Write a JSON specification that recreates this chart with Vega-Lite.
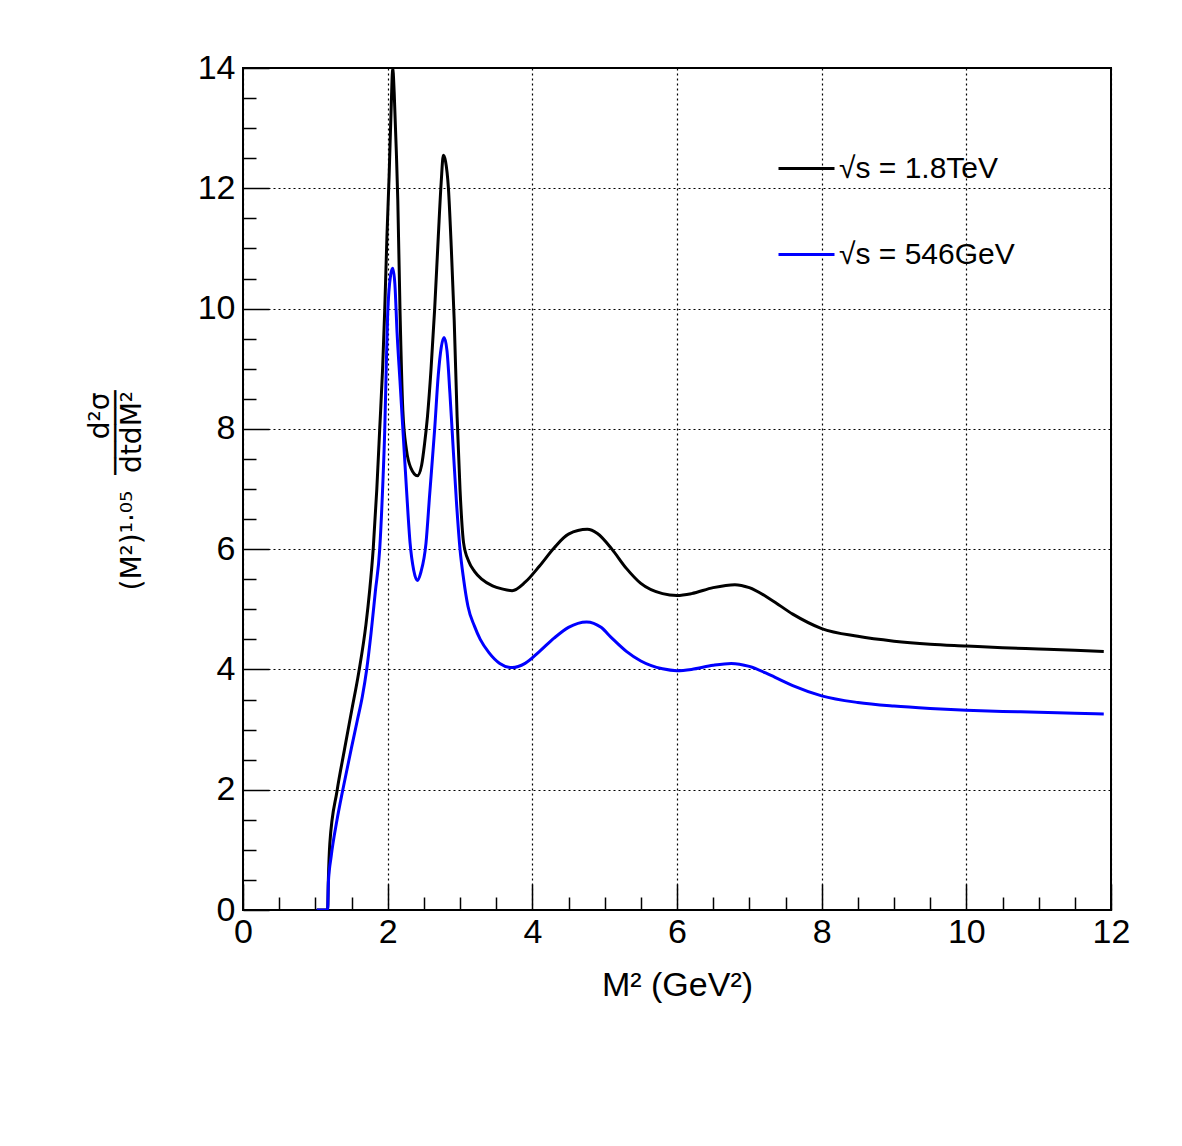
{
  "$schema": "https://vega.github.io/schema/vega-lite/v6.json",
  "autosize": {"type": "none"},
  "width": 868,
  "height": 842,
  "padding": {"left": 243, "top": 68, "right": 71, "bottom": 236},
  "background": "white",
  "config": {
    "view": {"stroke": "black", "strokeWidth": 2},
    "font": "Liberation Sans",
    "axis": {"domain": false, "labelFont": "Liberation Sans", "titleFont": "Liberation Sans", "labelColor": "black", "titleColor": "black", "tickColor": "black", "titleFontWeight": "normal"}
  },
  "data": {"values": [
    {"s": "√s = 1.8TeV", "x": 1.02, "y": 0},
    {"s": "√s = 1.8TeV", "x": 1.17, "y": 0},
    {"s": "√s = 1.8TeV", "x": 1.18, "y": 0.5},
    {"s": "√s = 1.8TeV", "x": 1.20, "y": 1.1},
    {"s": "√s = 1.8TeV", "x": 1.30, "y": 1.98},
    {"s": "√s = 1.8TeV", "x": 1.40, "y": 2.65},
    {"s": "√s = 1.8TeV", "x": 1.50, "y": 3.3},
    {"s": "√s = 1.8TeV", "x": 1.60, "y": 3.95},
    {"s": "√s = 1.8TeV", "x": 1.70, "y": 4.75},
    {"s": "√s = 1.8TeV", "x": 1.75, "y": 5.3},
    {"s": "√s = 1.8TeV", "x": 1.80, "y": 6.0},
    {"s": "√s = 1.8TeV", "x": 1.85, "y": 7.0},
    {"s": "√s = 1.8TeV", "x": 1.89, "y": 8.0},
    {"s": "√s = 1.8TeV", "x": 1.93, "y": 9.0},
    {"s": "√s = 1.8TeV", "x": 1.96, "y": 10.0},
    {"s": "√s = 1.8TeV", "x": 1.99, "y": 11.2},
    {"s": "√s = 1.8TeV", "x": 2.02, "y": 12.2},
    {"s": "√s = 1.8TeV", "x": 2.05, "y": 13.4},
    {"s": "√s = 1.8TeV", "x": 2.07, "y": 14.0},
    {"s": "√s = 1.8TeV", "x": 2.09, "y": 13.6},
    {"s": "√s = 1.8TeV", "x": 2.12, "y": 12.6},
    {"s": "√s = 1.8TeV", "x": 2.14, "y": 11.8},
    {"s": "√s = 1.8TeV", "x": 2.17, "y": 10.0},
    {"s": "√s = 1.8TeV", "x": 2.21, "y": 8.3},
    {"s": "√s = 1.8TeV", "x": 2.26, "y": 7.65},
    {"s": "√s = 1.8TeV", "x": 2.32, "y": 7.35},
    {"s": "√s = 1.8TeV", "x": 2.41, "y": 7.22},
    {"s": "√s = 1.8TeV", "x": 2.47, "y": 7.4},
    {"s": "√s = 1.8TeV", "x": 2.51, "y": 7.75},
    {"s": "√s = 1.8TeV", "x": 2.55, "y": 8.2},
    {"s": "√s = 1.8TeV", "x": 2.60, "y": 9.0},
    {"s": "√s = 1.8TeV", "x": 2.65, "y": 10.0},
    {"s": "√s = 1.8TeV", "x": 2.70, "y": 11.2},
    {"s": "√s = 1.8TeV", "x": 2.74, "y": 12.1},
    {"s": "√s = 1.8TeV", "x": 2.77, "y": 12.55},
    {"s": "√s = 1.8TeV", "x": 2.80, "y": 12.45},
    {"s": "√s = 1.8TeV", "x": 2.84, "y": 12.0},
    {"s": "√s = 1.8TeV", "x": 2.88, "y": 11.0},
    {"s": "√s = 1.8TeV", "x": 2.92, "y": 9.8},
    {"s": "√s = 1.8TeV", "x": 2.96, "y": 8.2},
    {"s": "√s = 1.8TeV", "x": 3.00, "y": 7.0},
    {"s": "√s = 1.8TeV", "x": 3.05, "y": 6.1},
    {"s": "√s = 1.8TeV", "x": 3.12, "y": 5.8},
    {"s": "√s = 1.8TeV", "x": 3.20, "y": 5.63},
    {"s": "√s = 1.8TeV", "x": 3.30, "y": 5.5},
    {"s": "√s = 1.8TeV", "x": 3.45, "y": 5.39},
    {"s": "√s = 1.8TeV", "x": 3.58, "y": 5.34},
    {"s": "√s = 1.8TeV", "x": 3.72, "y": 5.31},
    {"s": "√s = 1.8TeV", "x": 3.90, "y": 5.45},
    {"s": "√s = 1.8TeV", "x": 4.10, "y": 5.72},
    {"s": "√s = 1.8TeV", "x": 4.30, "y": 6.02},
    {"s": "√s = 1.8TeV", "x": 4.50, "y": 6.25},
    {"s": "√s = 1.8TeV", "x": 4.76, "y": 6.33},
    {"s": "√s = 1.8TeV", "x": 4.90, "y": 6.26},
    {"s": "√s = 1.8TeV", "x": 5.10, "y": 6.0},
    {"s": "√s = 1.8TeV", "x": 5.30, "y": 5.68},
    {"s": "√s = 1.8TeV", "x": 5.50, "y": 5.43},
    {"s": "√s = 1.8TeV", "x": 5.80, "y": 5.26},
    {"s": "√s = 1.8TeV", "x": 6.00, "y": 5.23},
    {"s": "√s = 1.8TeV", "x": 6.20, "y": 5.26},
    {"s": "√s = 1.8TeV", "x": 6.50, "y": 5.36},
    {"s": "√s = 1.8TeV", "x": 6.80, "y": 5.41},
    {"s": "√s = 1.8TeV", "x": 7.00, "y": 5.36},
    {"s": "√s = 1.8TeV", "x": 7.30, "y": 5.16},
    {"s": "√s = 1.8TeV", "x": 7.60, "y": 4.92},
    {"s": "√s = 1.8TeV", "x": 8.00, "y": 4.68},
    {"s": "√s = 1.8TeV", "x": 8.50, "y": 4.55},
    {"s": "√s = 1.8TeV", "x": 9.00, "y": 4.47},
    {"s": "√s = 1.8TeV", "x": 9.50, "y": 4.42},
    {"s": "√s = 1.8TeV", "x": 10.0, "y": 4.39},
    {"s": "√s = 1.8TeV", "x": 10.5, "y": 4.36},
    {"s": "√s = 1.8TeV", "x": 11.0, "y": 4.34},
    {"s": "√s = 1.8TeV", "x": 11.5, "y": 4.32},
    {"s": "√s = 1.8TeV", "x": 11.9, "y": 4.30},
    {"s": "√s = 546GeV", "x": 1.02, "y": 0},
    {"s": "√s = 546GeV", "x": 1.17, "y": 0},
    {"s": "√s = 546GeV", "x": 1.18, "y": 0.45},
    {"s": "√s = 546GeV", "x": 1.22, "y": 0.9},
    {"s": "√s = 546GeV", "x": 1.30, "y": 1.5},
    {"s": "√s = 546GeV", "x": 1.38, "y": 2.0},
    {"s": "√s = 546GeV", "x": 1.50, "y": 2.7},
    {"s": "√s = 546GeV", "x": 1.58, "y": 3.15},
    {"s": "√s = 546GeV", "x": 1.65, "y": 3.55},
    {"s": "√s = 546GeV", "x": 1.71, "y": 4.0},
    {"s": "√s = 546GeV", "x": 1.77, "y": 4.6},
    {"s": "√s = 546GeV", "x": 1.83, "y": 5.3},
    {"s": "√s = 546GeV", "x": 1.89, "y": 6.0},
    {"s": "√s = 546GeV", "x": 1.93, "y": 7.0},
    {"s": "√s = 546GeV", "x": 1.96, "y": 8.0},
    {"s": "√s = 546GeV", "x": 1.98, "y": 9.0},
    {"s": "√s = 546GeV", "x": 2.00, "y": 9.9},
    {"s": "√s = 546GeV", "x": 2.04, "y": 10.55},
    {"s": "√s = 546GeV", "x": 2.07, "y": 10.67},
    {"s": "√s = 546GeV", "x": 2.10, "y": 10.4},
    {"s": "√s = 546GeV", "x": 2.13, "y": 9.6},
    {"s": "√s = 546GeV", "x": 2.17, "y": 8.8},
    {"s": "√s = 546GeV", "x": 2.21, "y": 8.0},
    {"s": "√s = 546GeV", "x": 2.26, "y": 7.0},
    {"s": "√s = 546GeV", "x": 2.31, "y": 6.1},
    {"s": "√s = 546GeV", "x": 2.36, "y": 5.65},
    {"s": "√s = 546GeV", "x": 2.41, "y": 5.48},
    {"s": "√s = 546GeV", "x": 2.46, "y": 5.62},
    {"s": "√s = 546GeV", "x": 2.53, "y": 6.1},
    {"s": "√s = 546GeV", "x": 2.58, "y": 6.9},
    {"s": "√s = 546GeV", "x": 2.65, "y": 8.0},
    {"s": "√s = 546GeV", "x": 2.70, "y": 8.9},
    {"s": "√s = 546GeV", "x": 2.74, "y": 9.35},
    {"s": "√s = 546GeV", "x": 2.78, "y": 9.52},
    {"s": "√s = 546GeV", "x": 2.82, "y": 9.3},
    {"s": "√s = 546GeV", "x": 2.86, "y": 8.6},
    {"s": "√s = 546GeV", "x": 2.89, "y": 8.0},
    {"s": "√s = 546GeV", "x": 2.95, "y": 6.8},
    {"s": "√s = 546GeV", "x": 3.00, "y": 6.0},
    {"s": "√s = 546GeV", "x": 3.05, "y": 5.5},
    {"s": "√s = 546GeV", "x": 3.11, "y": 5.05},
    {"s": "√s = 546GeV", "x": 3.20, "y": 4.72},
    {"s": "√s = 546GeV", "x": 3.28, "y": 4.5},
    {"s": "√s = 546GeV", "x": 3.40, "y": 4.28},
    {"s": "√s = 546GeV", "x": 3.55, "y": 4.1},
    {"s": "√s = 546GeV", "x": 3.72, "y": 4.03},
    {"s": "√s = 546GeV", "x": 3.90, "y": 4.1},
    {"s": "√s = 546GeV", "x": 4.10, "y": 4.3},
    {"s": "√s = 546GeV", "x": 4.30, "y": 4.52},
    {"s": "√s = 546GeV", "x": 4.50, "y": 4.7},
    {"s": "√s = 546GeV", "x": 4.75, "y": 4.79},
    {"s": "√s = 546GeV", "x": 4.95, "y": 4.7},
    {"s": "√s = 546GeV", "x": 5.10, "y": 4.52},
    {"s": "√s = 546GeV", "x": 5.30, "y": 4.3},
    {"s": "√s = 546GeV", "x": 5.50, "y": 4.14},
    {"s": "√s = 546GeV", "x": 5.80, "y": 4.01},
    {"s": "√s = 546GeV", "x": 6.00, "y": 3.98},
    {"s": "√s = 546GeV", "x": 6.20, "y": 4.0},
    {"s": "√s = 546GeV", "x": 6.50, "y": 4.07},
    {"s": "√s = 546GeV", "x": 6.75, "y": 4.10},
    {"s": "√s = 546GeV", "x": 7.00, "y": 4.05},
    {"s": "√s = 546GeV", "x": 7.30, "y": 3.9},
    {"s": "√s = 546GeV", "x": 7.60, "y": 3.73},
    {"s": "√s = 546GeV", "x": 8.00, "y": 3.56},
    {"s": "√s = 546GeV", "x": 8.50, "y": 3.45},
    {"s": "√s = 546GeV", "x": 9.00, "y": 3.39},
    {"s": "√s = 546GeV", "x": 9.50, "y": 3.35},
    {"s": "√s = 546GeV", "x": 10.0, "y": 3.32},
    {"s": "√s = 546GeV", "x": 10.5, "y": 3.30},
    {"s": "√s = 546GeV", "x": 11.0, "y": 3.29},
    {"s": "√s = 546GeV", "x": 11.5, "y": 3.27},
    {"s": "√s = 546GeV", "x": 11.9, "y": 3.26}
  ]},
  "resolve": {"axis": {"x": "independent", "y": "independent"}},
  "layer": [
    {
      "mark": {"type": "line", "strokeOpacity": 0, "clip": true},
      "encoding": {
        "x": {"field": "x", "type": "quantitative", "scale": {"domain": [0, 12], "nice": false, "zero": false},
          "axis": {"orient": "bottom", "values": [0.5,1,1.5,2.5,3,3.5,4.5,5,5.5,6.5,7,7.5,8.5,9,9.5,10.5,11,11.5], "labels": false, "grid": false, "title": null, "tickSize": -13, "tickWidth": 1.5}},
        "y": {"field": "y", "type": "quantitative", "scale": {"domain": [0, 14], "nice": false, "zero": false},
          "axis": {"orient": "left", "values": [0.5,1,1.5,2.5,3,3.5,4.5,5,5.5,6.5,7,7.5,8.5,9,9.5,10.5,11,11.5,12.5,13,13.5], "labels": false, "grid": false, "title": null, "tickSize": -13, "tickWidth": 1.5}},
        "detail": {"field": "s"}
      }
    },
    {
      "mark": {"type": "line", "strokeWidth": 3, "interpolate": "monotone", "clip": true},
      "encoding": {
        "x": {"field": "x", "type": "quantitative", "scale": {"domain": [0, 12], "nice": false, "zero": false},
          "axis": {"orient": "bottom", "values": [0,2,4,6,8,10,12], "grid": true, "gridColor": "black", "gridDash": [2,3], "gridWidth": 1.2, "gridOpacity": 1,
            "tickSize": -26, "tickWidth": 1.5, "labelFontSize": 34, "labelPadding": 31, "labelFlush": false,
            "title": "M² (GeV²)", "titleFontSize": 34, "titlePadding": 19}},
        "y": {"field": "y", "type": "quantitative", "scale": {"domain": [0, 14], "nice": false, "zero": false},
          "axis": {"orient": "left", "values": [0,2,4,6,8,10,12,14], "grid": true, "gridColor": "black", "gridDash": [2,3], "gridWidth": 1.2, "gridOpacity": 1,
            "tickSize": -26, "tickWidth": 1.5, "labelFontSize": 34, "labelPadding": 34, "labelFlush": false,
            "title": ["\u200b\u00a0\u00a0\u00a0\u00a0\u00a0\u00a0\u00a0\u00a0\u00a0\u00a0\u00a0\u00a0\u00a0\u00a0\u00a0\u00a0\u00a0d²σ", "\u200b\u00a0\u00a0\u00a0\u00a0\u00a0\u00a0\u00a0\u00a0\u00a0\u00a0\u00a0\u00a0\u00a0─────", "(M²)¹·⁰⁵\u00a0\u00a0dtdM²"],
            "titleFont": "DejaVu Sans", "titleFontSize": 28, "titleLineHeight": 16, "titleAlign": "left", "titleBaseline": "alphabetic", "titleAngle": 270, "titleX": -135, "titleY": 522}},
        "color": {"field": "s", "type": "nominal",
          "scale": {"domain": ["√s = 1.8TeV", "√s = 546GeV"], "range": ["#000000", "#0000ff"]},
          "legend": {"title": null, "orient": "none", "legendX": 534, "legendY": 71, "symbolType": "stroke", "symbolSize": 3136, "symbolStrokeWidth": 3,
            "labelFontSize": 30, "labelLimit": 500, "labelFont": "Liberation Sans", "labelColor": "black", "rowPadding": 41, "labelOffset": 3, "padding": 0}}
      }
    }
  ]
}
